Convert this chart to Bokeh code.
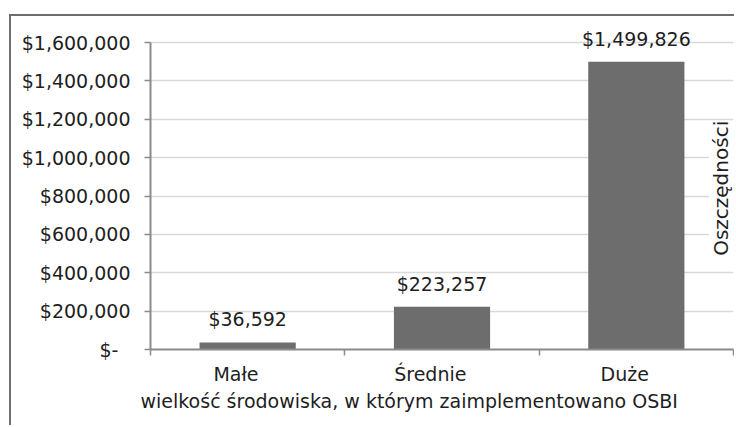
from bokeh.plotting import figure
from bokeh.models import (ColumnDataSource, FixedTicker, NumeralTickFormatter, Label, Range1d, Title)
from bokeh.core.properties import value
from bokeh.embed import file_html
from bokeh.resources import INLINE
import math

categories = ["Małe", "Średnie", "Duże"]
savings = [36592, 223257, 1499826]
y_ticks = [0, 200000, 400000, 600000, 800000, 1000000, 1200000, 1400000, 1600000]
x_title = "wielkość środowiska, w którym zaimplementowano OSBI"
y_title = "Oszczędności"

FONT = "DejaVu Sans"
FS = "19px"
TXT = "#1e1e1e"

n = len(categories)
xpos = [i + 0.5 for i in range(n)]
label_pos = [i + 0.44 for i in range(n)]
labels = ["$" + f"{v:,}" for v in savings]
src = ColumnDataSource(dict(x=xpos, top=savings, label=labels))

Y_END = 1600000 * (1 + 18 / 307)

p = figure(width=725, height=411, output_backend="svg", toolbar_location=None,
           x_range=Range1d(0, n), y_range=Range1d(0, Y_END),
           min_border_left=139, min_border_right=3, min_border_top=8, min_border_bottom=78)
p.margin = (14, 0, 0, 9)
p.styles = {"border-left": "2px solid #6e6e6e", "border-top": "2px solid #6e6e6e"}
p.outline_line_color = None
p.background_fill_color = "white"
p.border_fill_color = "white"

p.vbar(x="x", top="top", width=0.495, bottom=0, source=src, fill_color="#6d6d6d", line_color=None)
p.text(x="x", y="top", text="label", source=src, text_align="center", text_baseline="bottom",
       y_offset=-12, text_font=value(FONT), text_font_size=FS, text_color=TXT)

# y axis
p.yaxis.ticker = FixedTicker(ticks=y_ticks, minor_ticks=[])
p.yaxis.formatter = NumeralTickFormatter(format="$0,0")
p.yaxis.major_label_overrides = {0: "$-\u00a0\u00a0"}
p.yaxis.bounds = (0, 1600000)
p.yaxis.axis_line_color = "#8a8a8a"
p.yaxis.axis_line_width = 2
p.yaxis.major_tick_line_color = "#8a8a8a"
p.yaxis.major_tick_line_width = 1.5
p.yaxis.major_tick_out = 6
p.yaxis.major_tick_in = 0
p.yaxis.minor_tick_line_color = None
p.yaxis.major_label_standoff = 14
p.yaxis.major_label_text_font = FONT
p.yaxis.major_label_text_font_size = FS
p.yaxis.major_label_text_color = TXT

# x axis
p.xaxis.ticker = FixedTicker(ticks=label_pos, minor_ticks=list(range(n + 1)))
p.xaxis.major_label_overrides = {x: c for x, c in zip(label_pos, categories)}
p.xaxis.axis_line_color = "#8a8a8a"
p.xaxis.axis_line_width = 2
p.xaxis.major_tick_line_color = None
p.xaxis.minor_tick_line_color = "#8a8a8a"
p.xaxis.minor_tick_line_width = 1.5
p.xaxis.minor_tick_out = 6
p.xaxis.minor_tick_in = 0
p.xaxis.major_label_standoff = 7
p.xaxis.major_label_text_font = FONT
p.xaxis.major_label_text_font_size = FS
p.xaxis.major_label_text_color = TXT

p.xgrid.grid_line_color = None
p.ygrid.ticker = FixedTicker(ticks=y_ticks)
p.ygrid.grid_line_color = "#d9d9d9"
p.ygrid.grid_line_width = 1.5

# x axis title, left-aligned near the frame's left edge as in the reference
p.add_layout(Title(text=x_title, align="left", offset=-10, text_font=FONT, text_font_size=FS,
                   text_font_style="normal", text_color=TXT, standoff=0), "below")
# y axis title overlapping the right part of the plot, with white background
p.add_layout(Label(x=2.935, y=840000, text=y_title, angle=math.pi / 2, text_align="center",
                   text_baseline="middle", text_font=FONT, text_font_size="20px", text_color=TXT,
                   background_fill_color="white", border_line_color=None))

open("out.html", "w").write(file_html(p, INLINE))
